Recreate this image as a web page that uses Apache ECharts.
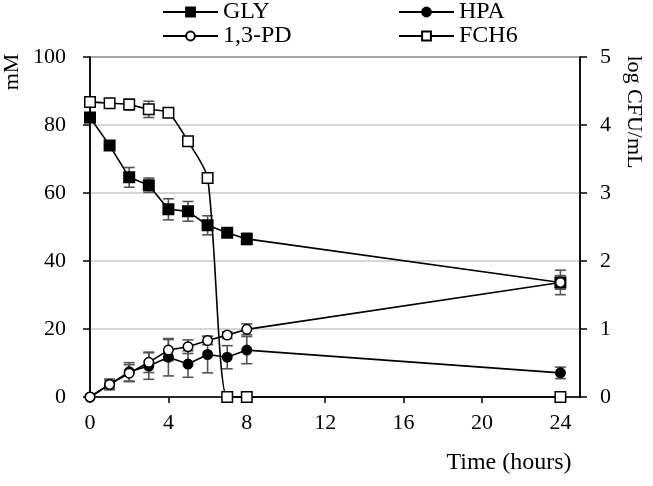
<!DOCTYPE html>
<html>
<head>
<meta charset="utf-8">
<script src="https://cdn.jsdelivr.net/npm/echarts@6/dist/echarts.min.js"></script>
<style>html,body{margin:0;padding:0;background:#fff}#c{width:653px;height:486px}</style>
</head>
<body>
<div id="c"></div>
<script>
var time = [0, 1, 2, 3, 4, 5, 6, 7, 8, 24];
var gly = [82.2, 74.0, 64.6, 62.3, 55.2, 54.6, 50.5, 48.3, 46.5, 33.7];
var glyErr = [0.5, 1.0, 2.9, 2.1, 3.1, 2.9, 2.8, 1.0, 1.7, 2.0];
var hpa = [0, 3.7, 7.4, 9.1, 11.7, 9.7, 12.5, 11.7, 13.8, 7.1];
var hpaErr = [0, 1.2, 2.7, 3.9, 5.5, 3.9, 5.4, 3.4, 4.0, 1.7];
var pd = [0, 3.7, 7.0, 10.2, 13.8, 14.8, 16.6, 18.2, 19.9, 33.7];
var pdErr = [0, 1.6, 2.5, 3.0, 3.1, 2.0, 1.2, 1.0, 1.6, 3.6];
var fch6 = [4.34, 4.32, 4.30, 4.23, 4.18, 3.76, 3.22, 0, 0, 0];
var fch6Err = [0, 0, 0.08, 0.12, 0, 0, 0.05, 0, 0, 0];
var xTicks = [0, 4, 8, 12, 16, 20, 24];

var FONT = "'Liberation Serif','Times New Roman',serif";

function pts(ys) { return time.map(function (t, i) { return [t, ys[i]]; }); }
function errPts(ys, es) { return time.map(function (t, i) { return [t, ys[i], es[i]]; }); }

function errRender(params, api) {
  var x = api.value(0), y = api.value(1), e = api.value(2);
  if (!e) return null;
  var top = api.coord([x, y + e]);
  var bot = api.coord([x, y - e]);
  var hw = 5.5;
  var st = { stroke: '#555', lineWidth: 1.6 };
  return {
    type: 'group',
    children: [
      { type: 'line', shape: { x1: top[0], y1: top[1], x2: bot[0], y2: bot[1] }, style: st },
      { type: 'line', shape: { x1: top[0] - hw, y1: top[1], x2: top[0] + hw, y2: top[1] }, style: st },
      { type: 'line', shape: { x1: bot[0] - hw, y1: bot[1], x2: bot[0] + hw, y2: bot[1] }, style: st }
    ]
  };
}

function errSeries(ys, es, yi) {
  return {
    type: 'custom', yAxisIndex: yi, renderItem: errRender, z: 1,
    data: errPts(ys, es), silent: true, clip: false
  };
}

function lineSeries(name, ys, yi, symbol, filled, smooth) {
  return {
    name: name, type: 'line', yAxisIndex: yi, data: pts(ys), z: 3,
    symbol: symbol, symbolSize: symbol === 'rect' ? 10.5 : 9.5, showAllSymbol: true,
    smooth: smooth || false,
    lineStyle: { color: '#000', width: 1.6 },
    itemStyle: { color: filled ? '#000' : '#fff', borderColor: '#000', borderWidth: 1.5 },
    emphasis: { disabled: true }, animation: false, clip: false
  };
}

function legendAt(name, left, top) {
  return {
    data: [name], left: left, top: top, padding: 0, itemWidth: 55, itemHeight: 11,
    textStyle: { fontFamily: FONT, fontSize: 24, color: '#000' }, selectedMode: false
  };
}

var chart = echarts.init(document.getElementById('c'), null, { renderer: 'canvas' });
chart.setOption({
  animation: false,
  backgroundColor: '#fff',
  legend: [
    legendAt('GLY', 162, 0),
    legendAt('HPA', 398, 0),
    legendAt('1,3-PD', 162, 24),
    legendAt('FCH6', 398, 24)
  ],
  grid: { left: 90, right: 73, top: 57, bottom: 89, show: true, borderColor: '#000', borderWidth: 1.5, backgroundColor: 'transparent' },
  xAxis: {
    type: 'value', min: 0, max: 25, interval: 4,
    axisLine: { lineStyle: { color: '#000', width: 1.5 } },
    axisTick: { length: 6, lineStyle: { color: '#000', width: 1.5 }, customValues: xTicks },
    axisLabel: { customValues: xTicks, color: '#000', fontFamily: FONT, fontSize: 22, margin: 15 },
    splitLine: { show: false }
  },
  yAxis: [
    {
      type: 'value', min: 0, max: 100, interval: 20, position: 'left',
      axisLine: { show: true, lineStyle: { color: '#000', width: 1.5 } },
      axisTick: { show: true, length: 7, lineStyle: { color: '#000', width: 1.5 } },
      axisLabel: { color: '#000', fontFamily: FONT, fontSize: 22, margin: 24 },
      splitLine: { show: true, lineStyle: { color: '#c8c8c8', width: 1.5 } }
    },
    {
      type: 'value', min: 0, max: 5, interval: 1, position: 'right',
      axisLine: { show: true, lineStyle: { color: '#000', width: 1.5 } },
      axisTick: { show: true, length: 7, lineStyle: { color: '#000', width: 1.5 } },
      axisLabel: { color: '#000', fontFamily: FONT, fontSize: 22, margin: 20 },
      splitLine: { show: false }
    }
  ],
  graphic: [
    { type: 'text', x: 12, y: 72, rotation: Math.PI / 2, style: { text: 'mM', font: '22px ' + FONT, fill: '#000', align: 'center', verticalAlign: 'middle' } },
    { type: 'text', x: 634, y: 112, rotation: -Math.PI / 2, style: { text: 'log CFU/mL', font: '22px ' + FONT, fill: '#000', align: 'center', verticalAlign: 'middle' } },
    { type: 'text', x: 509, y: 463, style: { text: 'Time (hours)', font: '24px ' + FONT, fill: '#000', align: 'center', verticalAlign: 'middle' } }
  ],
  series: [
    errSeries(gly, glyErr, 0),
    errSeries(hpa, hpaErr, 0),
    errSeries(pd, pdErr, 0),
    errSeries(fch6, fch6Err, 1),
    lineSeries('GLY', gly, 0, 'rect', true),
    lineSeries('HPA', hpa, 0, 'circle', true),
    lineSeries('1,3-PD', pd, 0, 'circle', false),
    lineSeries('FCH6', fch6, 1, 'rect', false, 0.25)
  ]
});
</script>
</body>
</html>
